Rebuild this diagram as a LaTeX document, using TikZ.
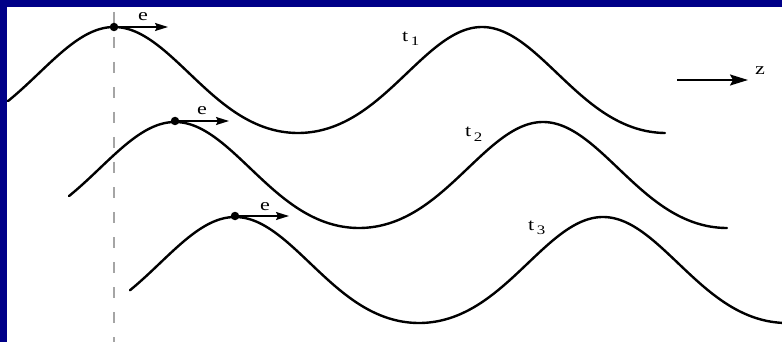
\documentclass[tikz,border=0pt]{standalone}
\usepackage{fontspec}
\setmainfont{Liberation Serif}[FakeStretch=1.3]
\usetikzlibrary{arrows.meta}
\definecolor{navy}{RGB}{0,0,136}
\definecolor{dashgray}{RGB}{165,165,165}
\begin{document}
\begin{tikzpicture}[x=1pt,y=-1pt,
  declare function={wv(\u)=cos(0.97826*\u)-0.17*sin(0.97826*\u)^2;},
  wave/.style={line width=2.4pt, line cap=round},
  dot/.style={circle, fill=black, inner sep=0pt, minimum size=8.5pt},
  earrow/.style={line width=1.6pt, -{Stealth[length=13pt,width=8pt,inset=2pt]}},
  zarrow/.style={line width=1.8pt, -{Stealth[length=18pt,width=11pt,inset=3pt]}},
  lbl/.style={anchor=base west, inner sep=0pt, font=\fontsize{17}{17}\selectfont}]
\useasboundingbox (0,0) rectangle (782,342);
\fill[navy] (0,0) rectangle (782,342);
\fill[white] (7,7) rectangle (782,342);
% dashed reference line
\draw[dashgray, line width=2pt, dash pattern=on 11pt off 14pt] (114,12) -- (114,342);
% waves
\draw[wave] plot[domain=8:665,samples=300] (\x,{80-53*wv(\x-114)});
\draw[wave] plot[domain=69:727,samples=300] (\x,{175-53*wv(\x-175)});
\draw[wave] plot[domain=130:782,samples=300] (\x,{270-53*wv(\x-235)});
% electrons
\node[dot] (d1) at (114,27) {};
\node[dot] (d2) at (175,121) {};
\node[dot] (d3) at (235,216) {};
\coordinate (a1) at (168,27);
\coordinate (a2) at (229,121);
\coordinate (a3) at (289,216);
\draw[earrow] (d1.center) -- (a1);
\draw[earrow] (d2.center) -- (a2);
\draw[earrow] (d3.center) -- (a3);
\node[lbl] (e1) at (138,21) {e};
\node[lbl] (e2) at (197,115) {e};
\node[lbl] (e3) at (260,210) {e};
% time labels
\node[lbl] (t1) at (402,42) {t\kern2.5pt\raisebox{-4pt}{\fontsize{13}{13}\selectfont 1}};
\node[lbl] (t2) at (465,137) {t\kern2.5pt\raisebox{-5pt}{\fontsize{13}{13}\selectfont 2}};
\node[lbl] (t3) at (528,230) {t\kern2.5pt\raisebox{-4pt}{\fontsize{13}{13}\selectfont 3}};
% z direction
\coordinate (zs) at (677,80);
\coordinate (ze) at (748,80);
\draw[zarrow] (zs) -- (ze);
\node[lbl] (z) at (755,75) {z};
\end{tikzpicture}
\end{document}
